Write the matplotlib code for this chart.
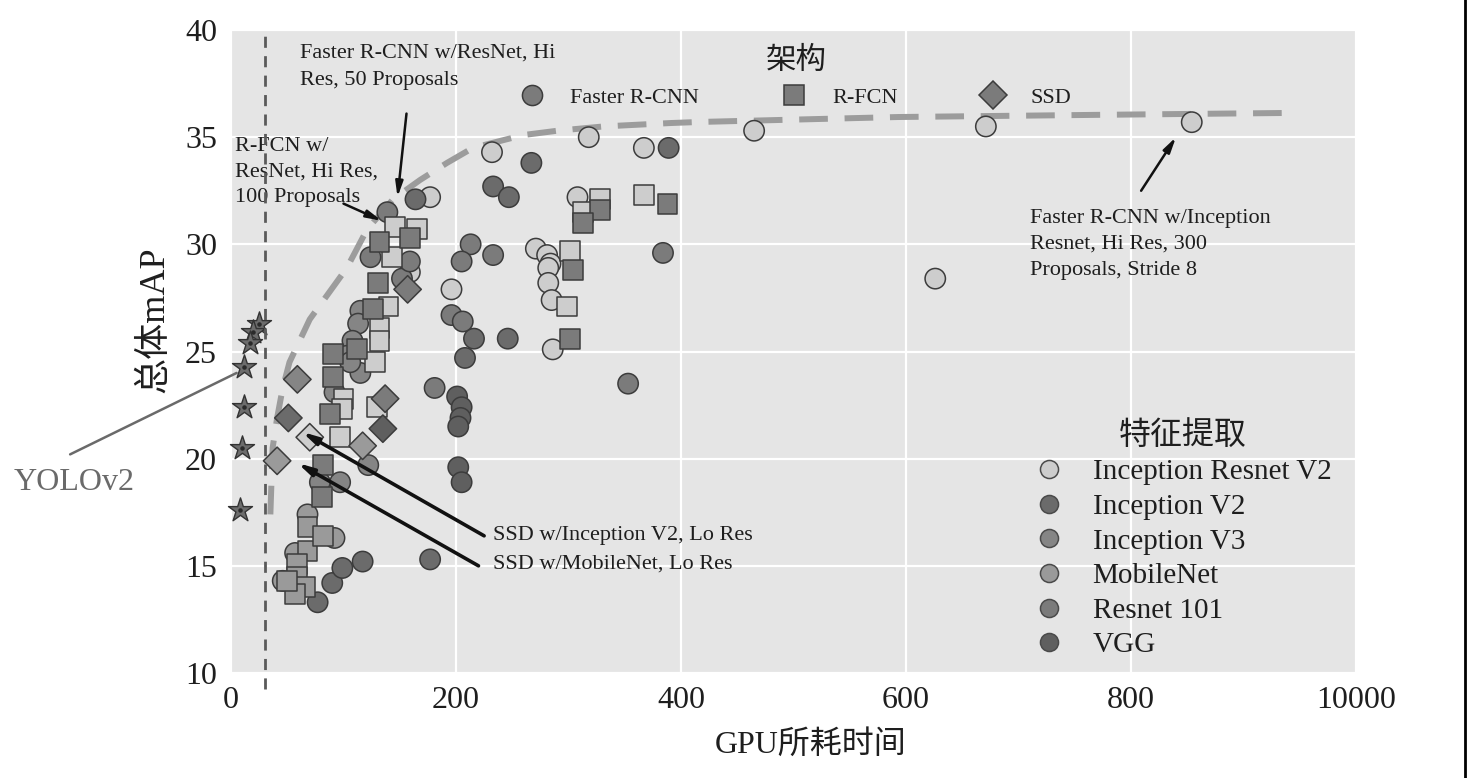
import matplotlib
matplotlib.use('Agg')
import matplotlib.pyplot as plt
from matplotlib.lines import Line2D

# ---------------- data ----------------
features = ['Inception Resnet V2', 'Inception V2', 'Inception V3', 'MobileNet', 'Resnet 101', 'VGG']
feature_colors = ['#cdcdcd', '#6b6b6b', '#858585', '#9a9a9a', '#7b7b7b', '#5f5f5f']
architectures = ['Faster R-CNN', 'R-FCN', 'SSD']

IR, I2, I3, MB, RN, VG = features

frcnn_x = [854, 671, 465, 367, 318, 232, 177, 308, 626, 271, 281, 284, 282, 282, 285, 286, 196, 159,
           389, 267, 233, 247, 164, 246, 216, 208, 77, 90, 99, 117, 177,
           139, 213, 233, 205, 384, 196, 206, 353, 181, 124, 152, 159,
           115, 113, 108, 103, 115, 106, 92, 122, 97, 79,
           68, 92, 46, 57,
           201, 205, 204, 202, 202, 205]
frcnn_y = [35.7, 35.5, 35.3, 34.5, 35.0, 34.3, 32.2, 32.2, 28.4, 29.8, 29.5, 29.1, 28.9, 28.2, 27.4, 25.1, 27.9, 28.7,
           34.5, 33.8, 32.7, 32.2, 32.1, 25.6, 25.6, 24.7, 13.3, 14.2, 14.9, 15.2, 15.3,
           31.5, 30.0, 29.5, 29.2, 29.6, 26.7, 26.4, 23.5, 23.3, 29.4, 28.4, 29.2,
           26.9, 26.3, 25.5, 24.8, 24.0, 24.5, 23.1, 19.7, 18.9, 18.9,
           17.4, 16.3, 14.3, 15.6,
           22.9, 22.4, 21.9, 21.5, 19.6, 18.9]
frcnn_feat = [IR] * 18 + [I2] * 13 + [RN] * 12 + [I3] * 10 + [MB] * 4 + [VG] * 6

rfcn_x = [328, 313, 367, 301, 299, 146, 165, 143, 140, 132, 132, 128, 130, 100, 99, 97,
          328, 313, 388, 304, 301, 159, 132, 131, 126, 91, 112, 91, 88, 82, 81,
          68, 68, 59, 59, 66, 57, 82, 50]
rfcn_y = [32.1, 31.5, 32.3, 29.7, 27.1, 30.8, 30.7, 29.4, 27.1, 26.1, 25.5, 24.5, 22.4, 22.8, 22.3, 21.0,
          31.6, 31.0, 31.9, 28.8, 25.6, 30.3, 30.1, 28.2, 27.0, 24.9, 25.1, 23.8, 22.1, 19.7, 18.2,
          16.8, 15.7, 15.1, 14.5, 14.0, 13.7, 16.4, 14.3]
rfcn_feat = [IR] * 16 + [RN] * 15 + [MB] * 8

ssd_x = [59, 51, 70, 41, 137, 135, 117, 157]
ssd_y = [23.7, 21.9, 21.0, 19.9, 22.8, 21.4, 20.6, 27.9]
ssd_feat = [I3, I2, IR, MB, RN, VG, MB, RN]

yolo_x = [25, 20, 17, 12, 12, 10, 8]
yolo_y = [26.3, 25.9, 25.4, 24.3, 22.4, 20.5, 17.6]

frontier_x = [35, 37, 41, 46, 52, 70, 103, 121, 144, 168, 192, 215, 260, 290, 331, 391, 417, 593, 768, 940]
frontier_y = [17.4, 20.5, 21.9, 23.3, 24.5, 26.5, 28.9, 30.7, 32.1, 33.0, 33.8, 34.5, 35.1, 35.3, 35.5, 35.66, 35.71, 35.94, 36.04, 36.13]

yolo_line_x = 30

x_ticks = [0, 200, 400, 600, 800, 1000]
x_tick_labels = ['0', '200', '400', '600', '800', '10000']
y_ticks = [10, 15, 20, 25, 30, 35, 40]

# ---------------- style ----------------
plt.rcParams['font.family'] = ['Liberation Serif', 'Noto Sans CJK SC']
plt.rcParams['axes.unicode_minus'] = False
TXT = '#1e1e1e'
EDGE = '#3c3c3c'

fig = plt.figure(figsize=(14.67, 7.78), dpi=100)
ax = fig.add_axes([0.15746, 0.13496, 0.76687, 0.82648])
ax.set_facecolor('#e5e5e5')
for s in ax.spines.values():
    s.set_visible(False)
ax.grid(True, color='white', lw=1.6, zorder=0)
ax.set_axisbelow(True)

ax.set_xlim(0, 1000)
ax.set_ylim(10, 40)
ax.set_xticks(x_ticks)
ax.set_xticklabels(x_tick_labels)
ax.set_yticks(y_ticks)
ax.tick_params(axis='both', length=0, labelsize=23, colors=TXT)
ax.tick_params(axis='x', pad=9)
ax.tick_params(axis='y', pad=10)

ax.set_xlabel('GPU所耗时间', fontsize=23, color=TXT)
ax.xaxis.set_label_coords(0.515, -0.088)
ax.set_ylabel('总体mAP', fontsize=26, color=TXT)
ax.yaxis.set_label_coords(-0.053, 0.55)

cmap = dict(zip(features, feature_colors))

# frontier curve
ax.plot(frontier_x, frontier_y, color='#9c9c9c', lw=4.3, dashes=(4.8, 2.8), zorder=2,
        solid_capstyle='butt')

# vertical dashed line
ax.axvline(yolo_line_x, ymin=-0.025, ymax=0.99, color='#5a5a5a', lw=2.0, dashes=(4, 3),
           zorder=6, clip_on=False)

# markers
ax.scatter(frcnn_x, frcnn_y, s=215, marker='o', c=[cmap[f] for f in frcnn_feat],
           edgecolors=EDGE, linewidths=1.1, zorder=3)
ax.scatter(rfcn_x, rfcn_y, s=205, marker='s', c=[cmap[f] for f in rfcn_feat],
           edgecolors=EDGE, linewidths=1.1, zorder=4)
ax.scatter(ssd_x, ssd_y, s=195, marker='D', c=[cmap[f] for f in ssd_feat],
           edgecolors=EDGE, linewidths=1.1, zorder=5)
ax.scatter(yolo_x, yolo_y, s=330, marker='*', c='#6c6c6c', edgecolors='#333333',
           linewidths=1.0, zorder=5, clip_on=False)
ax.scatter(yolo_x, yolo_y, s=5, marker='o', c='#2a2a2a', zorder=6, clip_on=False)

# annotations
arrow_kw = dict(arrowstyle='-|>,head_length=0.9,head_width=0.22', color='#111111', lw=1.8,
                shrinkA=0, shrinkB=0)
ax.annotate('', xy=(148, 32.2), xytext=(156, 36.1), arrowprops=arrow_kw, zorder=7)
ax.text(61, 39.35, 'Faster R-CNN w/ResNet, Hi\nRes, 50 Proposals', fontsize=16, color=TXT,
        va='top', ha='left', linespacing=1.55, zorder=7)

ax.annotate('', xy=(134, 31.1), xytext=(100, 31.9), arrowprops=arrow_kw, zorder=7)
ax.text(3.5, 35.0, 'R-FCN w/\nResNet, Hi Res,\n100 Proposals', fontsize=16, color=TXT,
        va='top', ha='left', linespacing=1.47, zorder=5)

ax.annotate('', xy=(63, 21.25), xytext=(225, 16.4), arrowprops=dict(arrow_kw, lw=2.6), zorder=7)
ax.annotate('', xy=(59, 19.8), xytext=(220, 15.0), arrowprops=dict(arrow_kw, lw=2.6), zorder=7)
ax.text(233, 16.4, 'SSD w/Inception V2, Lo Res', fontsize=16, color=TXT, va='center', ha='left', zorder=7)
ax.text(233, 15.1, 'SSD w/MobileNet, Lo Res', fontsize=16, color=TXT, va='center', ha='left', zorder=7)

ax.annotate('', xy=(840, 35.0), xytext=(809, 32.5), arrowprops=arrow_kw, zorder=7)
ax.text(710, 31.65, 'Faster R-CNN w/Inception\nResnet, Hi Res, 300\nProposals, Stride 8', fontsize=16,
        color=TXT, va='top', ha='left', linespacing=1.5, zorder=7)

# YOLOv2
ax.annotate('', xy=(5, 24.0), xytext=(-143, 20.2),
            arrowprops=dict(arrowstyle='-', color='#6a6a6a', lw=1.8, shrinkA=0, shrinkB=0),
            annotation_clip=False)
ax.text(-139, 18.9, 'YOLOv2', fontsize=23, color='#6a6a6a', ha='center', va='center', clip_on=False)

# legend: architecture
arch_markers = ['o', 's', 'D']
arch_sizes = [14.5, 14.2, 13.8]
h1 = [Line2D([], [], ls='', marker=m, ms=ms, mfc='#7b7b7b', mec=EDGE, mew=1.1)
      for m, ms in zip(arch_markers, arch_sizes)]
leg1 = ax.legend(h1, architectures, title='架构', ncol=3, loc='upper center',
                 bbox_to_anchor=(0.5025, 0.973), frameon=False, fontsize=16, title_fontsize=22,
                 handlelength=1.0, handletextpad=1.2, columnspacing=3.8, borderpad=0,
                 borderaxespad=0)
for t in leg1.get_texts():
    t.set_color(TXT)
leg1.get_title().set_color(TXT)
ax.add_artist(leg1)

# legend: feature extractor
h2 = [Line2D([], [], ls='', marker='o', ms=13, mfc=c, mec='#4a4a4a', mew=1.1) for c in feature_colors]
leg2 = ax.legend(h2, features, title='特征提取', loc='upper left', bbox_to_anchor=(0.714, 0.392),
                 frameon=False, fontsize=21, title_fontsize=23, handlelength=1.0,
                 handletextpad=1.0, labelspacing=0.28, borderpad=0, borderaxespad=0)
for t in leg2.get_texts():
    t.set_color(TXT)
leg2.get_title().set_color(TXT)

# right border line of the page
fig.add_artist(Line2D([0.9985, 0.9985], [0, 1], transform=fig.transFigure, color='black', lw=2))

fig.savefig('out.png', dpi=100, facecolor='white')
